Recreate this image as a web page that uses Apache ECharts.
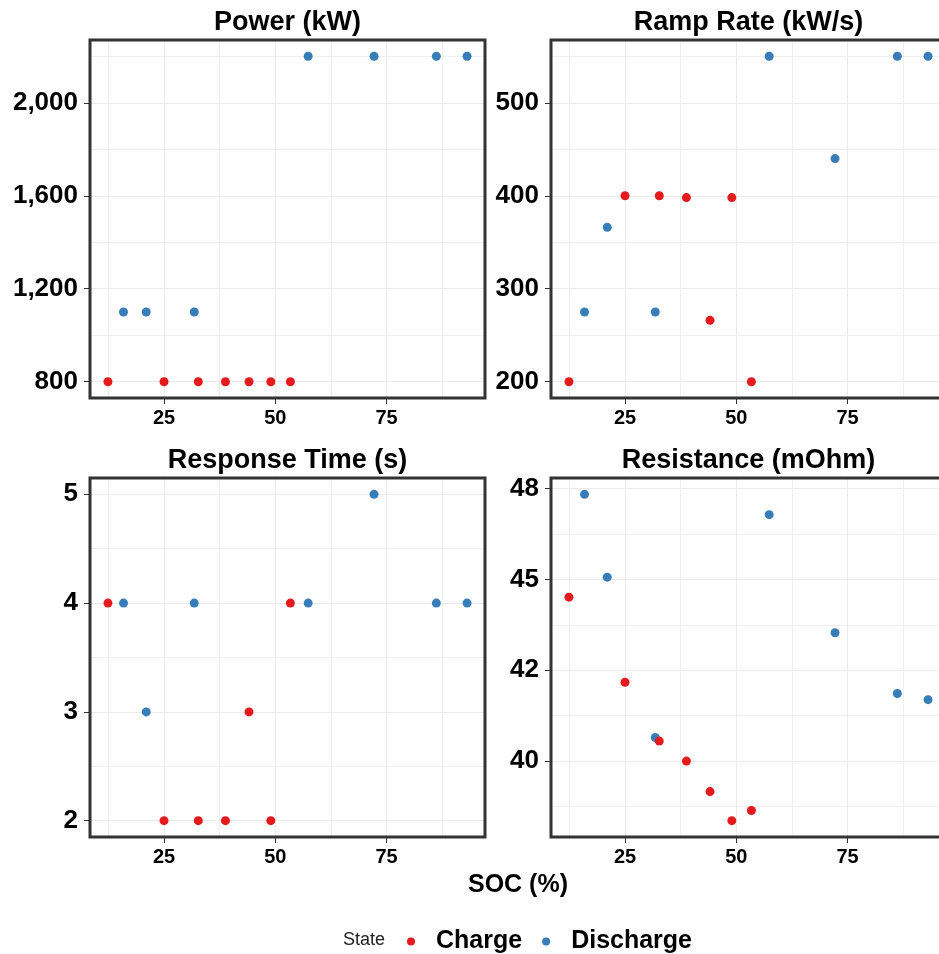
<!DOCTYPE html>
<html><head><meta charset="utf-8">
<script src="https://cdn.jsdelivr.net/npm/echarts@6/dist/echarts.min.js"></script>
<style>html,body{margin:0;padding:0;overflow:hidden;background:#fff}#c{width:960px;height:954px}</style>
</head><body><div id="c"></div>
<script>
// ---- data ----
const socCharge = [12.4, 25, 32.7, 38.8, 44.1, 49.0, 53.4];
const socDischarge = [15.9, 21.0, 31.8, 57.4, 72.2, 86.2, 93.1];
const powerCharge = [800, 800, 800, 800, 800, 800, 800];
const powerDischarge = [1100, 1100, 1100, 2200, 2200, 2200, 2200];
const rampCharge = [200, 400, 400, 398, 266, 398, 200];
const rampDischarge = [275, 366, 275, 550, 440, 550, 550];
const respCharge = [4, 2, 2, 2, 3, 2, 4];
const respDischarge = [4, 3, 4, 4, 5, 4, 4];
const resCharge = [44.51, 42.17, 40.55, 40.0, 39.16, 38.36, 38.64];
const resDischarge = [47.34, 45.06, 40.65, 46.78, 43.53, 41.86, 41.69];

const panelTitles = ['Power (kW)', 'Ramp Rate (kW/s)', 'Response Time (s)', 'Resistance (mOhm)'];
const xTicks = [25, 50, 75];
const xTickLabels = ['25', '50', '75'];
const xMinor = [12.5, 37.5, 62.5, 87.5];
const powerTicks = [800, 1200, 1600, 2000];
const powerTickLabels = ['800', '1,200', '1,600', '2,000'];
const powerMinor = [1000, 1400, 1800, 2200];
const rampTicks = [200, 300, 400, 500];
const rampTickLabels = ['200', '300', '400', '500'];
const rampMinor = [250, 350, 450, 550];
const respTicks = [2, 3, 4, 5];
const respTickLabels = ['2', '3', '4', '5'];
const respMinor = [2.5, 3.5, 4.5];
const resTicks = [40, 42.5, 45, 47.5];
const resTickLabels = ['40', '42', '45', '48'];
const resMinor = [38.75, 41.25, 43.75, 46.25];
const stateNames = ['Charge', 'Discharge'];
const xTitle = 'SOC (%)';
const legendTitle = 'State';

// ---- build ----
const FONT = '"Liberation Sans", Arial, sans-serif';
const COLORS = { Charge: '#E41A1C', Discharge: '#377EB8' };
function padRange(arrs) {
  const all = [].concat(...arrs);
  const lo = Math.min(...all), hi = Math.max(...all), d = (hi - lo) * 0.05;
  return [lo - d, hi + d];
}
const xr = padRange([socCharge, socDischarge]);
const panels = [
  { c: powerCharge, d: powerDischarge, t: powerTicks, l: powerTickLabels, m: powerMinor },
  { c: rampCharge, d: rampDischarge, t: rampTicks, l: rampTickLabels, m: rampMinor },
  { c: respCharge, d: respDischarge, t: respTicks, l: respTickLabels, m: respMinor },
  { c: resCharge, d: resDischarge, t: resTicks, l: resTickLabels, m: resMinor }
];
const boxes = [
  { left: 90, top: 40, width: 395, height: 358 },
  { left: 551, top: 40, width: 395, height: 358 },
  { left: 90, top: 478, width: 395, height: 359 },
  { left: 551, top: 478, width: 395, height: 359 }
];
function fmt(ticks, labels) {
  return v => { let k = 0, b = Infinity; ticks.forEach((t, i) => { const e = Math.abs(t - v); if (e < b) { b = e; k = i; } }); return labels[k]; };
}
const hiddenTick = vals => ({ show: false, customValues: vals, length: 0, lineStyle: { opacity: 0, width: 0 } });
const grid = [], xAxis = [], yAxis = [], series = [], graphic = [];
panels.forEach((p, i) => {
  const yr = padRange([p.c, p.d]);
  grid.push(Object.assign({ show: false, containLabel: false, outerBoundsMode: 'none' }, boxes[i]));
  xAxis.push({ gridIndex: i, type: 'value', min: xr[0], max: xr[1], position: 'bottom',
    axisLine: { show: false },
    axisTick: { show: true, customValues: xTicks, length: 6, lineStyle: { color: '#333', width: 1 } },
    axisLabel: { customValues: xTicks, formatter: fmt(xTicks, xTickLabels), margin: 10, fontSize: 20, fontWeight: 'bold', color: '#000', fontFamily: FONT },
    splitLine: { show: true, lineStyle: { color: '#EBEBEB', width: 1 } } });
  xAxis.push({ gridIndex: i, type: 'value', min: xr[0], max: xr[1], position: 'bottom',
    axisLine: { show: false }, axisTick: hiddenTick(xMinor), axisLabel: { show: false },
    splitLine: { show: true, lineStyle: { color: '#EFEFEF', width: 1 } } });
  yAxis.push({ gridIndex: i, type: 'value', min: yr[0], max: yr[1], position: 'left',
    axisLine: { show: false },
    axisTick: { show: true, customValues: p.t, length: 6, lineStyle: { color: '#333', width: 1 } },
    axisLabel: { customValues: p.t, formatter: fmt(p.t, p.l), margin: 12, fontSize: 26, fontWeight: 'bold', color: '#000', fontFamily: FONT },
    splitLine: { show: true, lineStyle: { color: '#EBEBEB', width: 1 } } });
  yAxis.push({ gridIndex: i, type: 'value', min: yr[0], max: yr[1], position: 'left',
    axisLine: { show: false }, axisTick: hiddenTick(p.m), axisLabel: { show: false },
    splitLine: { show: true, lineStyle: { color: '#EFEFEF', width: 1 } } });
  const xi = 2 * i, yi = 2 * i;
  series.push({ name: 'Discharge', type: 'scatter', xAxisIndex: xi, yAxisIndex: yi, symbol: 'circle', symbolSize: 9,
    itemStyle: { color: COLORS.Discharge, opacity: 1 }, data: socDischarge.map((x, k) => [x, p.d[k]]) });
  series.push({ name: 'Charge', type: 'scatter', xAxisIndex: xi, yAxisIndex: yi, symbol: 'circle', symbolSize: 9,
    itemStyle: { color: COLORS.Charge, opacity: 1 }, data: socCharge.map((x, k) => [x, p.c[k]]) });
  const b = boxes[i];
  // panel border drawn above grid lines
  graphic.push({ type: 'rect', z: 100, silent: true,
    shape: { x: b.left, y: b.top, width: b.width, height: b.height },
    style: { fill: 'none', stroke: '#333333', lineWidth: 3 } });
  graphic.push({ type: 'text', x: b.left + b.width / 2, y: b.top - 17,
    style: { text: panelTitles[i], font: 'bold 27px ' + FONT, fill: '#000', align: 'center', verticalAlign: 'middle', textAlign: 'center', textVerticalAlign: 'middle' } });
});
graphic.push({ type: 'text', x: 518, y: 885,
  style: { text: xTitle, font: 'bold 25px ' + FONT, fill: '#000', align: 'center', verticalAlign: 'middle', textAlign: 'center', textVerticalAlign: 'middle' } });
graphic.push({ type: 'text', x: 343, y: 940,
  style: { text: legendTitle, font: '18px ' + FONT, fill: '#222', align: 'left', verticalAlign: 'middle', textAlign: 'left', textVerticalAlign: 'middle' } });

const chart = echarts.init(document.getElementById('c'), null, { renderer: 'canvas' });
chart.setOption({
  animation: false,
  backgroundColor: '#fff',
  grid, xAxis, yAxis, series, graphic,
  legend: { data: stateNames, left: 402, top: 924, icon: 'circle', itemWidth: 8, itemHeight: 8, itemGap: 20,
    textStyle: { fontSize: 25, fontWeight: 'bold', color: '#000', fontFamily: FONT, padding: [0, 0, 0, 16] } },
  tooltip: { show: false }
});
</script></body></html>
